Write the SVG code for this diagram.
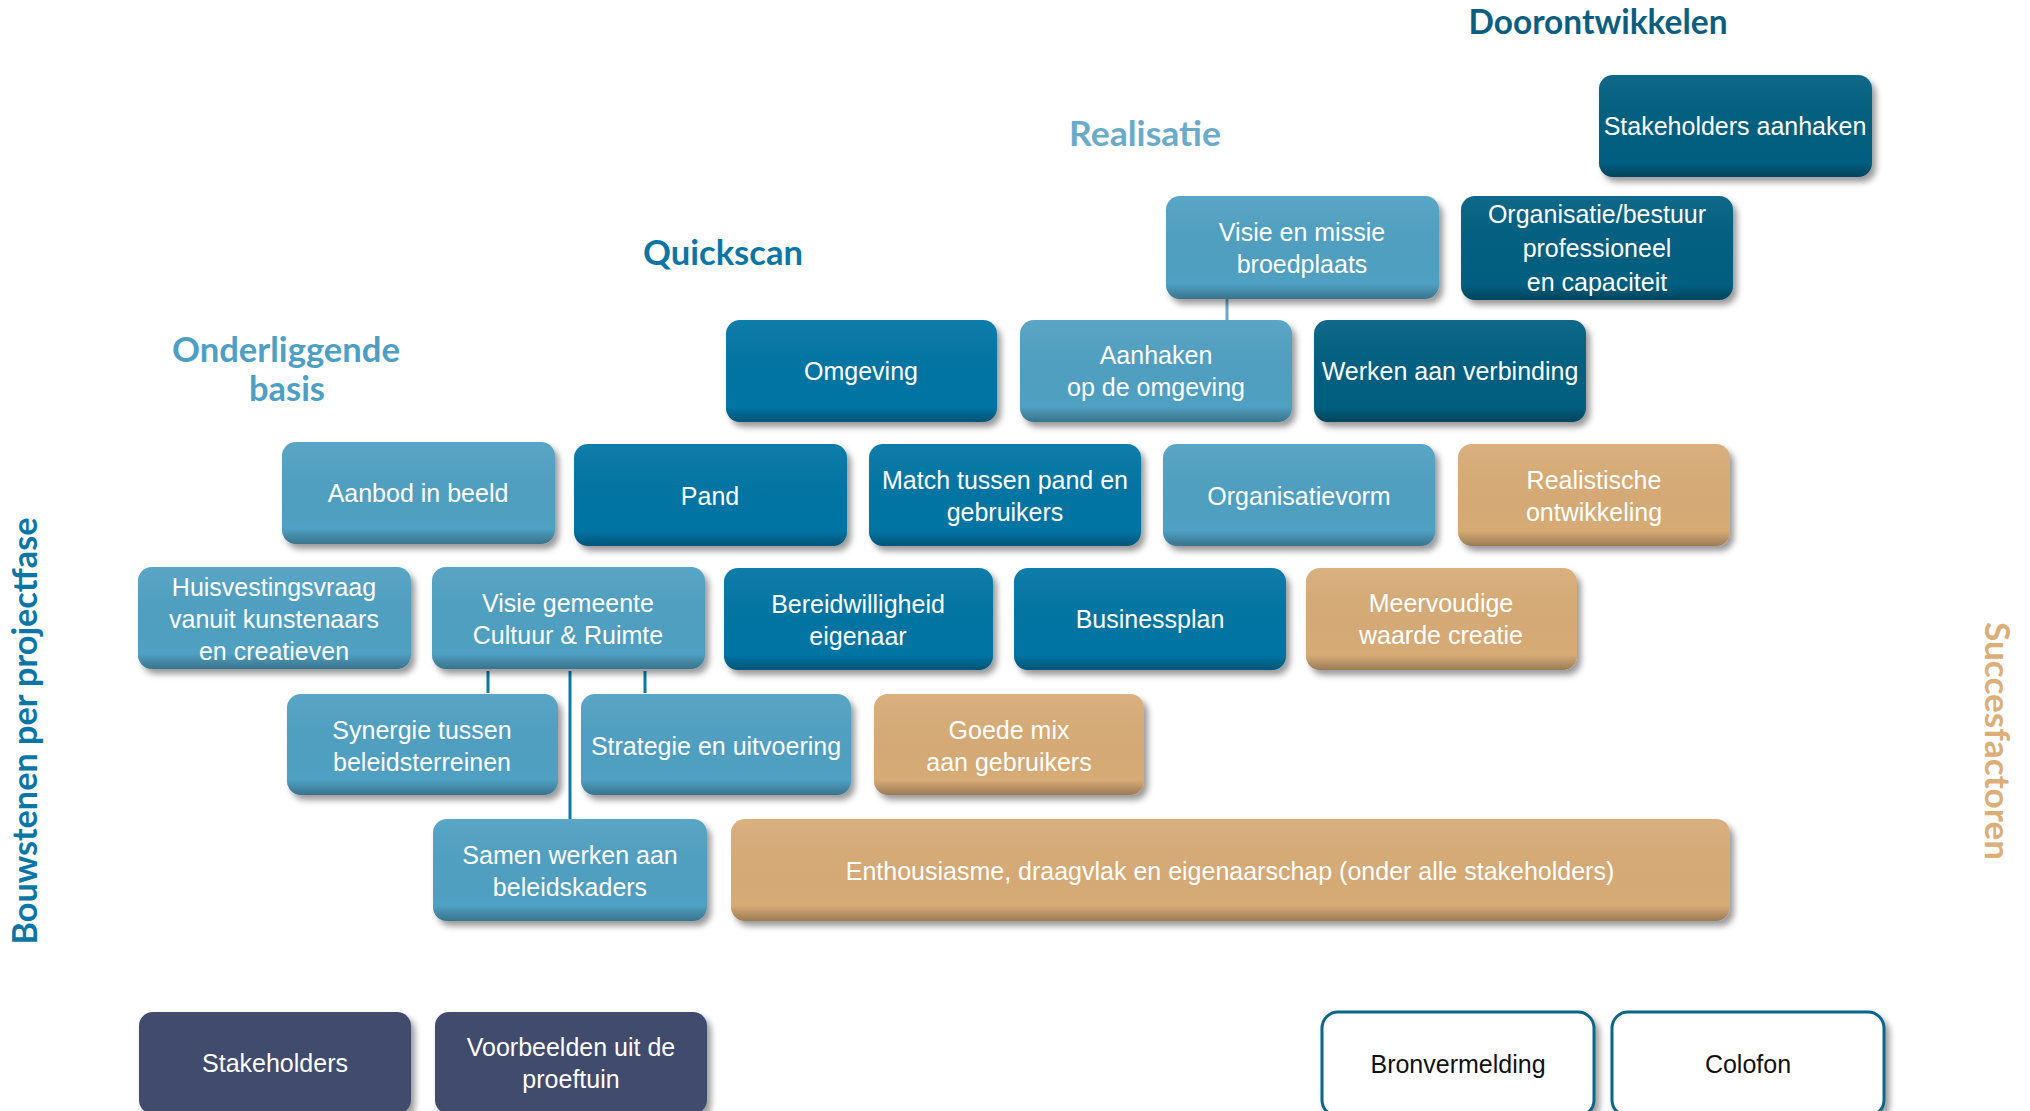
<svg xmlns="http://www.w3.org/2000/svg" width="2030" height="1111" viewBox="0 0 2030 1111">
<defs>
<filter id="sh" x="-10%" y="-15%" width="125%" height="140%">
<feDropShadow dx="4" dy="5" stdDeviation="3" flood-color="#000" flood-opacity="0.4"/>
</filter>
<linearGradient id="bevel" x1="0" y1="0" x2="0" y2="1">
<stop offset="0" stop-color="#fff" stop-opacity="0.06"/>
<stop offset="0.85" stop-color="#000" stop-opacity="0"/>
<stop offset="1" stop-color="#000" stop-opacity="0.28"/>
</linearGradient>
</defs>
<style>
.box{filter:url(#sh)}
.dark{fill:#045e80}
.mid{fill:#0574a4}
.light{fill:#50a0c2}
.tan{fill:#d7ab76}
.navy{fill:#3f4c6d}
.outline{fill:#fff;stroke:#0a6587;stroke-width:3}
.bv{fill:url(#bevel)}
.t{font-family:"Liberation Sans",Arial,sans-serif;font-size:25px;fill:#fff;text-anchor:middle}
.tb{font-family:"Liberation Sans",Arial,sans-serif;font-size:25px;fill:#111;text-anchor:middle}
.title{font-family:Lato,"Liberation Sans",sans-serif;font-weight:bold;font-size:34px;text-anchor:middle}
.conn{stroke-width:3;fill:none}
</style>
<rect width="2030" height="1111" fill="#fff"/>

<g id="titles">
<text class="title" x="1598" y="34" fill="#0b5e80" textLength="259" lengthAdjust="spacingAndGlyphs">Doorontwikkelen</text>
<text class="title" x="1145" y="146" fill="#6aabca" textLength="152" lengthAdjust="spacingAndGlyphs">Realisatie</text>
<text class="title" x="723" y="265" fill="#0b76a6" textLength="160" lengthAdjust="spacingAndGlyphs">Quickscan</text>
<text class="title" x="286" y="362" fill="#4d9fc4" textLength="228" lengthAdjust="spacingAndGlyphs">Onderliggende</text>
<text class="title" x="287" y="401" fill="#4d9fc4" textLength="76" lengthAdjust="spacingAndGlyphs">basis</text>
<text class="title" transform="translate(37,731) rotate(-90)" fill="#0b76a6" textLength="427" lengthAdjust="spacingAndGlyphs">Bouwstenen per projectfase</text>
<text class="title" transform="translate(1985,741) rotate(90)" fill="#dcae78" textLength="238" lengthAdjust="spacingAndGlyphs">Succesfactoren</text>
</g>

<g id="connectors">
<line class="conn" x1="1227" y1="299" x2="1227" y2="321" stroke="#6aaac8"/>
<line class="conn" x1="488" y1="671" x2="488" y2="693" stroke="#0a78a8"/>
<line class="conn" x1="645" y1="671" x2="645" y2="693" stroke="#0a78a8"/>
<line class="conn" x1="570" y1="671" x2="570" y2="819" stroke="#0a78a8"/>
</g>

<g id="n-stakeholders-aanhaken"><rect class="box dark" x="1599" y="75" width="273" height="102" rx="14"/><rect class="bv" x="1599" y="75" width="273" height="102" rx="14"/><text class="t" x="1735" y="135">Stakeholders aanhaken</text></g>

<g id="n-visie-missie"><rect class="box light" x="1166" y="196" width="273" height="103" rx="14"/><rect class="bv" x="1166" y="196" width="273" height="103" rx="14"/><text class="t" x="1302" y="241">Visie en missie</text><text class="t" x="1302" y="273">broedplaats</text></g>
<g id="n-organisatie-bestuur"><rect class="box dark" x="1461" y="196" width="272" height="104" rx="14"/><rect class="bv" x="1461" y="196" width="272" height="104" rx="14"/><text class="t" x="1597" y="223">Organisatie/bestuur</text><text class="t" x="1597" y="257">professioneel</text><text class="t" x="1597" y="291">en capaciteit</text></g>

<g id="n-omgeving"><rect class="box mid" x="726" y="320" width="271" height="102" rx="14"/><rect class="bv" x="726" y="320" width="271" height="102" rx="14"/><text class="t" x="861" y="380">Omgeving</text></g>
<g id="n-aanhaken"><rect class="box light" x="1020" y="320" width="272" height="102" rx="14"/><rect class="bv" x="1020" y="320" width="272" height="102" rx="14"/><text class="t" x="1156" y="364">Aanhaken</text><text class="t" x="1156" y="396">op de omgeving</text></g>
<g id="n-werken"><rect class="box dark" x="1314" y="320" width="272" height="102" rx="14"/><rect class="bv" x="1314" y="320" width="272" height="102" rx="14"/><text class="t" x="1450" y="380">Werken aan verbinding</text></g>

<g id="n-aanbod"><rect class="box light" x="282" y="442" width="273" height="102" rx="14"/><rect class="bv" x="282" y="442" width="273" height="102" rx="14"/><text class="t" x="418" y="502">Aanbod in beeld</text></g>
<g id="n-pand"><rect class="box mid" x="574" y="444" width="273" height="102" rx="14"/><rect class="bv" x="574" y="444" width="273" height="102" rx="14"/><text class="t" x="710" y="505">Pand</text></g>
<g id="n-match"><rect class="box mid" x="869" y="444" width="272" height="102" rx="14"/><rect class="bv" x="869" y="444" width="272" height="102" rx="14"/><text class="t" x="1005" y="489">Match tussen pand en</text><text class="t" x="1005" y="521">gebruikers</text></g>
<g id="n-organisatievorm"><rect class="box light" x="1163" y="444" width="272" height="102" rx="14"/><rect class="bv" x="1163" y="444" width="272" height="102" rx="14"/><text class="t" x="1299" y="505">Organisatievorm</text></g>
<g id="n-realistische"><rect class="box tan" x="1458" y="444" width="272" height="102" rx="14"/><rect class="bv" x="1458" y="444" width="272" height="102" rx="14"/><text class="t" x="1594" y="489">Realistische</text><text class="t" x="1594" y="521">ontwikkeling</text></g>

<g id="n-huisvestingsvraag"><rect class="box light" x="138" y="567" width="273" height="102" rx="14"/><rect class="bv" x="138" y="567" width="273" height="102" rx="14"/><text class="t" x="274" y="596">Huisvestingsvraag</text><text class="t" x="274" y="628">vanuit kunstenaars</text><text class="t" x="274" y="660">en creatieven</text></g>
<g id="n-visie-gemeente"><rect class="box light" x="432" y="567" width="273" height="102" rx="14"/><rect class="bv" x="432" y="567" width="273" height="102" rx="14"/><text class="t" x="568" y="612">Visie gemeente</text><text class="t" x="568" y="644">Cultuur &amp; Ruimte</text></g>
<g id="n-bereidwilligheid"><rect class="box mid" x="724" y="568" width="269" height="102" rx="14"/><rect class="bv" x="724" y="568" width="269" height="102" rx="14"/><text class="t" x="858" y="613">Bereidwilligheid</text><text class="t" x="858" y="645">eigenaar</text></g>
<g id="n-businessplan"><rect class="box mid" x="1014" y="568" width="272" height="102" rx="14"/><rect class="bv" x="1014" y="568" width="272" height="102" rx="14"/><text class="t" x="1150" y="628">Businessplan</text></g>
<g id="n-meervoudige"><rect class="box tan" x="1306" y="568" width="271" height="102" rx="14"/><rect class="bv" x="1306" y="568" width="271" height="102" rx="14"/><text class="t" x="1441" y="612">Meervoudige</text><text class="t" x="1441" y="644">waarde creatie</text></g>

<g id="n-synergie"><rect class="box light" x="287" y="694" width="271" height="101" rx="14"/><rect class="bv" x="287" y="694" width="271" height="101" rx="14"/><text class="t" x="422" y="739">Synergie tussen</text><text class="t" x="422" y="771">beleidsterreinen</text></g>
<g id="n-strategie"><rect class="box light" x="581" y="694" width="270" height="101" rx="14"/><rect class="bv" x="581" y="694" width="270" height="101" rx="14"/><text class="t" x="716" y="755">Strategie en uitvoering</text></g>
<g id="n-goede-mix"><rect class="box tan" x="874" y="694" width="270" height="101" rx="14"/><rect class="bv" x="874" y="694" width="270" height="101" rx="14"/><text class="t" x="1009" y="739">Goede mix</text><text class="t" x="1009" y="771">aan gebruikers</text></g>

<g id="n-samen-werken"><rect class="box light" x="433" y="819" width="274" height="102" rx="14"/><rect class="bv" x="433" y="819" width="274" height="102" rx="14"/><text class="t" x="570" y="864">Samen werken aan</text><text class="t" x="570" y="896">beleidskaders</text></g>
<g id="n-enthousiasme"><rect class="box tan" x="731" y="819" width="999" height="102" rx="14"/><rect class="bv" x="731" y="819" width="999" height="102" rx="14"/><text class="t" x="1230" y="880">Enthousiasme, draagvlak en eigenaarschap (onder alle stakeholders)</text></g>

<g id="n-stakeholders"><rect class="box navy" x="139" y="1012" width="272" height="102" rx="14"/><text class="t" x="275" y="1072">Stakeholders</text></g>
<g id="n-voorbeelden"><rect class="box navy" x="435" y="1012" width="272" height="102" rx="14"/><text class="t" x="571" y="1056">Voorbeelden uit de</text><text class="t" x="571" y="1088">proeftuin</text></g>
<g id="n-bronvermelding"><rect class="box outline" x="1322" y="1012" width="272" height="104" rx="16"/><text class="tb" x="1458" y="1073">Bronvermelding</text></g>
<g id="n-colofon"><rect class="box outline" x="1612" y="1012" width="272" height="104" rx="16"/><text class="tb" x="1748" y="1073">Colofon</text></g>
</svg>
